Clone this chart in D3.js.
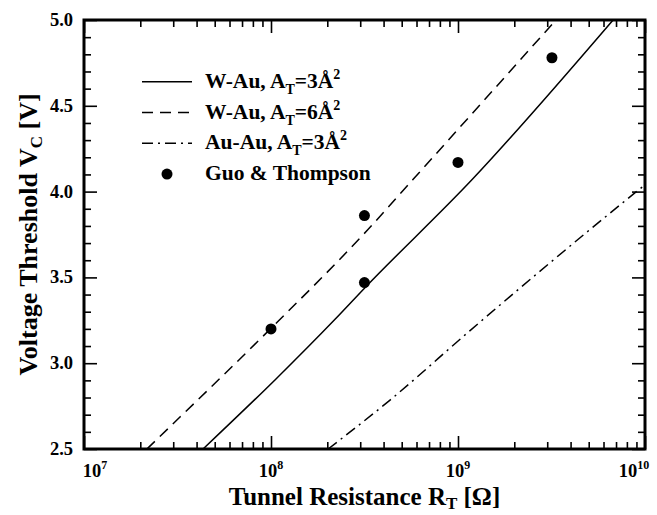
<!DOCTYPE html>
<html>
<head>
<meta charset="utf-8">
<script src="https://cdn.jsdelivr.net/npm/d3@7"></script>
<style>
  body { margin: 0; background: #fff; }
  svg text { font-family: "Liberation Serif", "Times New Roman", serif; font-weight: bold; fill: #000; }
</style>
</head>
<body>
<svg id="chart" width="657" height="515"></svg>
<script>
'use strict';

// curves: resistance (ohm) vs threshold voltage (V)
var wAu3R = [4.33e7, 1.06e8, 2.20e8, 3.18e8, 1.19e9, 6.75e9];
var wAu3V = [2.50, 2.907, 3.256, 3.44, 4.07, 5.00];
var wAu6R = [2.17e7, 3.26e7, 9.06e7, 3.30e8, 5.74e8, 3.34e9];
var wAu6V = [2.50, 2.686, 3.157, 3.779, 4.07, 5.00];
var auAu3R = [2.02e8, 4.33e8, 1.16e9, 7.62e9, 1e10];
var auAu3V = [2.50, 2.785, 3.19, 3.936, 4.04];

// Guo & Thompson measurements
var guoR = [1e8, 3.16e8, 3.16e8, 1e9, 3.18e9];
var guoV = [3.20, 3.86, 3.47, 4.17, 4.78];

var xMajor = [1e7, 1e8, 1e9, 1e10];
var xExp = ['7', '8', '9', '10'];
var yMajor = [2.5, 3.0, 3.5, 4.0, 4.5, 5.0];

var plotL = 84, plotR = 645, plotT = 20, plotB = 449;

var svg = d3.select('#chart');

var x = d3.scaleLog().domain([1e7, 1e10]).range([plotL, plotR]);
var y = d3.scaleLinear().domain([2.5, 5.0]).range([plotB, plotT]);

var xMinor = x.ticks().filter(function(d) { return xMajor.indexOf(d) < 0; });
var yMinor = d3.range(25, 51).map(function(d) { return d / 10; })
    .filter(function(d) { return yMajor.indexOf(d) < 0; });

var MAJ = 13, MIN = 7;

/* ticks, all pointing inward */
function tickAxis(axisFn, scale, vals, len, tr) {
    var g = svg.append('g').attr('transform', tr)
        .call(axisFn(scale).tickValues(vals).tickSize(len).tickFormat(''));
    g.select('.domain').remove();
    g.selectAll('line').attr('stroke', '#000').attr('stroke-width', 1.6);
    return g;
}
tickAxis(d3.axisBottom, x, xMajor, -MAJ, 'translate(0,' + plotB + ')');
tickAxis(d3.axisBottom, x, xMinor, -MIN, 'translate(0,' + plotB + ')');
tickAxis(d3.axisTop, x, xMajor, -MAJ, 'translate(0,' + plotT + ')');
tickAxis(d3.axisTop, x, xMinor, -MIN, 'translate(0,' + plotT + ')');
tickAxis(d3.axisLeft, y, yMajor, -MAJ, 'translate(' + plotL + ',0)');
tickAxis(d3.axisLeft, y, yMinor, -MIN, 'translate(' + plotL + ',0)');
tickAxis(d3.axisRight, y, yMajor, -MAJ, 'translate(' + plotR + ',0)');
tickAxis(d3.axisRight, y, yMinor, -MIN, 'translate(' + plotR + ',0)');

/* tick labels */
svg.selectAll('.ylab').data(yMajor).enter().append('text')
    .attr('x', plotL - 11)
    .attr('y', function(d) { return y(d) + 6; })
    .attr('text-anchor', 'end')
    .style('font-size', '18.5px')
    .text(function(d) { return d.toFixed(1); });

var xl = svg.selectAll('.xlab').data(xMajor).enter().append('text')
    .attr('x', function(d, i) {
        var off = 0;
        if (i === 0) off = 11;
        if (i === xMajor.length - 1) off = -11;
        return x(d) + off;
    })
    .attr('y', 477)
    .attr('text-anchor', 'middle')
    .style('font-size', '18.5px');
xl.append('tspan').text('10');
xl.append('tspan').attr('dy', -8).style('font-size', '12px')
    .text(function(d, i) { return xExp[i]; });

/* axis titles */
var xt = svg.append('text').attr('x', (plotL + plotR) / 2).attr('y', 505)
    .attr('text-anchor', 'middle').style('font-size', '25px');
xt.append('tspan').text('Tunnel Resistance R');
xt.append('tspan').attr('dy', 4).style('font-size', '17px').text('T');
xt.append('tspan').attr('dy', -4).text(' [\u03A9]');

var yt = svg.append('text')
    .attr('transform', 'translate(37,' + ((plotT + plotB) / 2) + ') rotate(-90)')
    .attr('text-anchor', 'middle').style('font-size', '26px');
yt.append('tspan').text('Voltage Threshold V');
yt.append('tspan').attr('dy', 5).style('font-size', '17px').text('C');
yt.append('tspan').attr('dy', -5).text(' [V]');

/* curves */
svg.append('clipPath').attr('id', 'plotclip').append('rect')
    .attr('x', plotL).attr('y', plotT).attr('width', plotR - plotL).attr('height', plotB - plotT);

var line = d3.line()
    .x(function(d) { return x(d[0]); })
    .y(function(d) { return y(d[1]); })
    .curve(d3.curveMonotoneX);

var series = [
    { r: wAu3R, v: wAu3V, dash: null },
    { r: wAu6R, v: wAu6V, dash: '11,7' },
    { r: auAu3R, v: auAu3V, dash: '11,5,2,5' }
];

var plot = svg.append('g').attr('clip-path', 'url(#plotclip)');
series.forEach(function(s) {
    plot.append('path')
        .datum(d3.zip(s.r, s.v))
        .attr('d', line)
        .attr('fill', 'none')
        .attr('stroke', '#000')
        .attr('stroke-width', 1.5)
        .attr('stroke-dasharray', s.dash);
});

plot.selectAll('.pt').data(d3.zip(guoR, guoV)).enter().append('circle')
    .attr('cx', function(d) { return x(d[0]); })
    .attr('cy', function(d) { return y(d[1]); })
    .attr('r', 5.5)
    .attr('fill', '#000');

/* frame */
svg.append('rect')
    .attr('x', plotL).attr('y', plotT)
    .attr('width', plotR - plotL).attr('height', plotB - plotT)
    .attr('fill', 'none').attr('stroke', '#000').attr('stroke-width', 3);

/* legend */
var legRows = [
    { name: 'W-Au, A', sub: 'T', rest: '=3\u00C5', dash: null },
    { name: 'W-Au, A', sub: 'T', rest: '=6\u00C5', dash: '11,7' },
    { name: 'Au-Au, A', sub: 'T', rest: '=3\u00C5', dash: '11,5,2,5' },
    { name: 'Guo & Thompson', dot: true }
];
var leg = svg.append('g');
legRows.forEach(function(r, i) {
    var ly = 81.7 + i * 30.8;
    if (r.dot) {
        leg.append('circle').attr('cx', 167).attr('cy', ly).attr('r', 5.5).attr('fill', '#000');
    } else {
        leg.append('line').attr('x1', 142).attr('x2', 192).attr('y1', ly).attr('y2', ly)
            .attr('stroke', '#000').attr('stroke-width', 1.5)
            .attr('stroke-dasharray', r.dash);
    }
    var t = leg.append('text').attr('x', 205).attr('y', ly + 6).style('font-size', '21.5px');
    t.append('tspan').text(r.name);
    if (r.sub) {
        t.append('tspan').attr('dy', 6).style('font-size', '14px').text(r.sub);
        t.append('tspan').attr('dy', -6).text(r.rest);
        t.append('tspan').attr('dy', -9).style('font-size', '14px').text('2');
    }
});
</script>
</body>
</html>
